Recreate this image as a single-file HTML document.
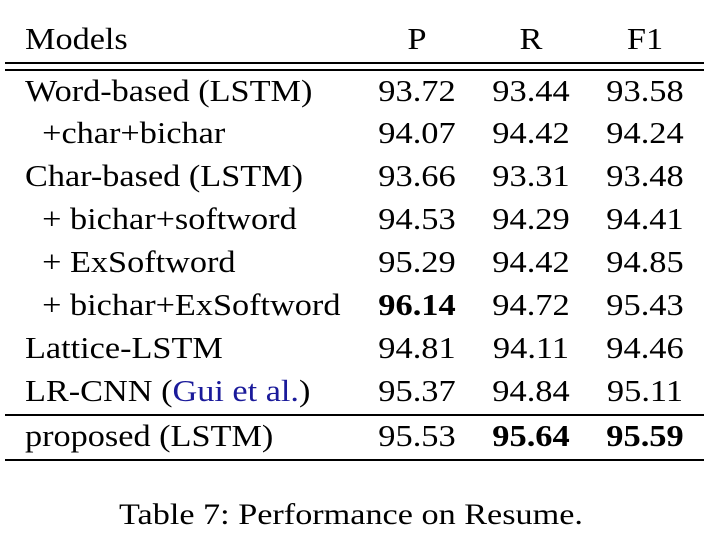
<!DOCTYPE html>
<html><head><meta charset="utf-8"><style>
body{margin:0;width:711px;height:535px;background:#fff;position:relative;font-family:"Liberation Serif",serif;color:#000;overflow:hidden}
.t{position:absolute;font-size:31px;line-height:30px;white-space:nowrap;transform:scaleX(1.105);transform-origin:0 0}
.c{transform:translateX(-50%) scaleX(1.11);transform-origin:50% 0}
.rule{position:absolute;left:5px;width:699px;background:#000}
b{font-weight:bold}
</style></head><body>
<div class="rule" style="top:62px;height:2px"></div>
<div class="rule" style="top:69px;height:2px"></div>
<div class="rule" style="top:414px;height:2px"></div>
<div class="rule" style="top:459px;height:2px"></div>
<div id="tbl"></div>
<div class="t c" style="left:351px;top:500px;font-size:30px;transform:translateX(-50%) scaleX(1.14)">Table 7: Performance on Resume.</div>
<script>
const models=["Models","Word-based (LSTM)","\u00a0\u00a0+char+bichar","Char-based (LSTM)","\u00a0\u00a0+ bichar+softword","\u00a0\u00a0+ ExSoftword","\u00a0\u00a0+ bichar+ExSoftword","Lattice-LSTM","LR-CNN (<span style='color:#1a1a9a'>Gui et al.</span>)","proposed (LSTM)"];
const pVals=["P","93.72","94.07","93.66","94.53","95.29","<b>96.14</b>","94.81","95.37","95.53"];
const rVals=["R","93.44","94.42","93.31","94.29","94.42","94.72","94.11","94.84","<b>95.64</b>"];
const fVals=["F1","93.58","94.24","93.48","94.41","94.85","95.43","94.46","95.11","<b>95.59</b>"];
const tops=[24,76,118,161,204,247,290,333,376,421];
const tbl=document.getElementById('tbl');
function add(html,x,y,center,name){const d=document.createElement('div');d.className='t'+(center?' c':'');d.style.left=x+'px';d.style.top=y+'px';d.innerHTML=html;


tbl.appendChild(d);}
models.forEach((m,i)=>{add(m,25,tops[i],false,'row-'+i+'-model');add(pVals[i],417,tops[i],true,'row-'+i+'-p');add(rVals[i],531,tops[i],true,'row-'+i+'-r');add(fVals[i],645,tops[i],true,'row-'+i+'-f1');});
</script>
</body></html>
